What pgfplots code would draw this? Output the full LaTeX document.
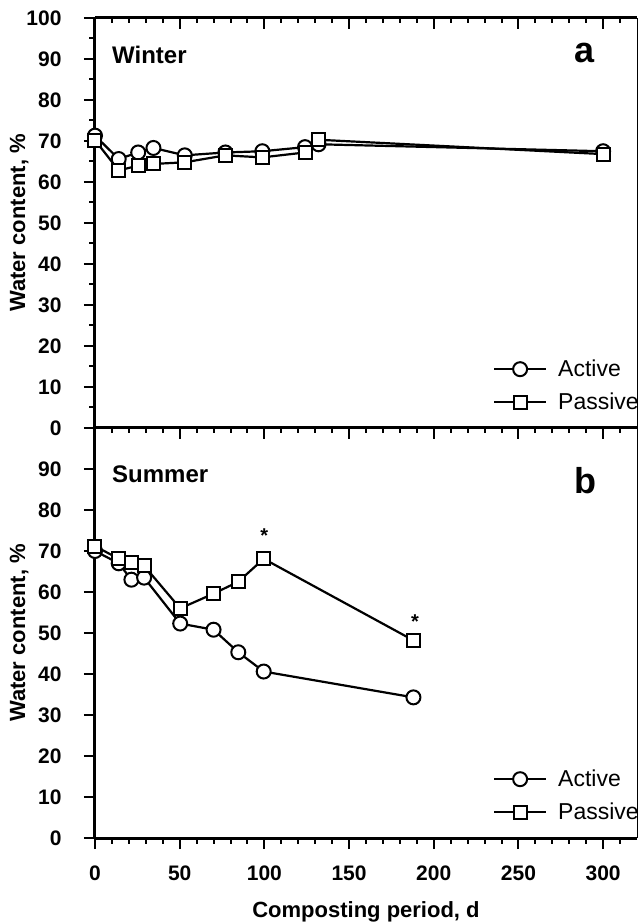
\documentclass[border=0pt]{standalone}
\usepackage{pgfplots}
\pgfplotsset{compat=1.18}
\usepackage{fontspec}
\setmainfont{Liberation Sans}
\begin{document}
\begin{tikzpicture}
\useasboundingbox (-95pt,-85pt) rectangle (543pt,838pt);
\pgfplotsset{
  base/.style={
    scale only axis, width=542pt, height=410pt,
    xmin=0, xmax=320, ymin=0, ymax=100,
    clip=false,
    major tick length=11pt, minor tick length=5.5pt,
    tick style={black, line width=2pt},
    /pgf/number format/assume math mode=true,
  },
  yax/.style={base,
    axis x line=none, axis y line*=left,
    y axis line style={line width=3pt, -},
    tick align=outside,
    xtick=\empty,
    yticklabel style={font=\fontsize{21}{21}\selectfont\bfseries, xshift=-19pt},
    ylabel={Water content, \%},
    every axis y label/.style={at={(axis description cs:-0.140,0.5)}, rotate=90, anchor=center,
      font=\fontsize{22}{22}\selectfont\bfseries},
    legend style={draw=none, fill=none, at={(axis description cs:0.734,0.035)}, anchor=south west,
      inner sep=0pt, font=\fontsize{23}{25}\selectfont, row sep=11pt,
      /tikz/every odd column/.append style={column sep=9pt}},
    legend cell align=left,
    legend image code/.code={\draw[mark repeat=2,mark phase=2] plot coordinates {(0pt,0pt) (26pt,0pt) (52pt,0pt)};},
  },
  xtop/.style={base, axis y line=none, axis x line*=top, ytick=\empty,
    x axis line style={line width=3pt,-}, tick align=inside,
    xtick={0,50,...,300}, minor xtick={10,20,...,310}, xticklabels={},
  },
  xbot/.style={base, axis y line=none, axis x line*=bottom, ytick=\empty,
    x axis line style={line width=3pt,-}, tick align=outside,
    xtick={0,50,...,300}, minor xtick={10,20,...,310},
    xticklabel style={font=\fontsize{21}{21}\selectfont\bfseries, yshift=-13pt},
    xlabel={Composting period, d},
    every axis x label/.style={at={(axis description cs:0.5,-0.180)}, anchor=center,
      font=\fontsize{22}{22}\selectfont\bfseries},
  },
  act/.style={black, line width=2.2pt, mark=*, mark size=7pt, mark options={fill=white, line width=2pt}},
  pas/.style={black, line width=2.2pt, mark=square*, mark size=6.5pt, mark options={fill=white, line width=2pt}},
}
% frame axes
\begin{axis}[xbot, at={(0pt,0pt)}]
\end{axis}
\begin{axis}[xtop, at={(0pt,0pt)}]
\end{axis}
\begin{axis}[xtop, at={(0pt,410pt)}]
\end{axis}
% top panel: Winter
\begin{axis}[yax, at={(0pt,410pt)},
  ytick={0,10,...,100}, minor ytick={5,15,...,95}]
\draw[line width=1pt] (rel axis cs:1,0) -- (rel axis cs:1,1);
\addplot[act] coordinates {(0,71.3) (14,65.6) (25.5,67.2) (34.5,68.3) (53,66.5) (77,67.2) (98.8,67.5) (124,68.5) (132,69.2) (300,67.5)};
\addlegendentry{Active}
\addplot[pas] coordinates {(0,70.2) (14,62.8) (25.5,64.0) (34.5,64.4) (53,64.8) (77,66.5) (98.8,66.0) (124,67.2) (132,70.3) (300,66.8)};
\addlegendentry{Passive}
\node[anchor=west, inner sep=0pt, font=\fontsize{24}{24}\selectfont\bfseries] at ([xshift=17pt,yshift=-37pt]rel axis cs:0,1) {Winter};
\node[anchor=base east, inner sep=0pt, font=\fontsize{36}{36}\selectfont\bfseries] at ([xshift=-42pt,yshift=-45pt]rel axis cs:1,1) {a};
\end{axis}
% bottom panel: Summer
\begin{axis}[yax, at={(0pt,0pt)},
  ytick={0,10,...,90}]
\draw[line width=1pt] (rel axis cs:1,0) -- (rel axis cs:1,1);
\addplot[act] coordinates {(0,70) (14,67) (21.5,63) (29,63.5) (50.3,52.3) (70,50.8) (84.6,45.3) (99.6,40.6) (188,34.3)};
\addlegendentry{Active}
\addplot[pas] coordinates {(0,71.2) (14,68.1) (21.5,67.2) (29,66.4) (50.3,56) (70,59.6) (84.6,62.5) (99.6,68.1) (188,48.2)};
\addlegendentry{Passive}
\node[font=\fontsize{20}{20}\selectfont\bfseries, inner sep=0pt] at (axis cs:100,73.8) {*};
\node[font=\fontsize{20}{20}\selectfont\bfseries, inner sep=0pt] at (axis cs:189,52.8) {*};
\node[anchor=west, inner sep=0pt, font=\fontsize{24}{24}\selectfont\bfseries] at ([xshift=17pt,yshift=-46pt]rel axis cs:0,1) {Summer};
\node[anchor=base east, inner sep=0pt, font=\fontsize{36}{36}\selectfont\bfseries] at ([xshift=-40pt,yshift=-66pt]rel axis cs:1,1) {b};
\end{axis}
\end{tikzpicture}
\end{document}
